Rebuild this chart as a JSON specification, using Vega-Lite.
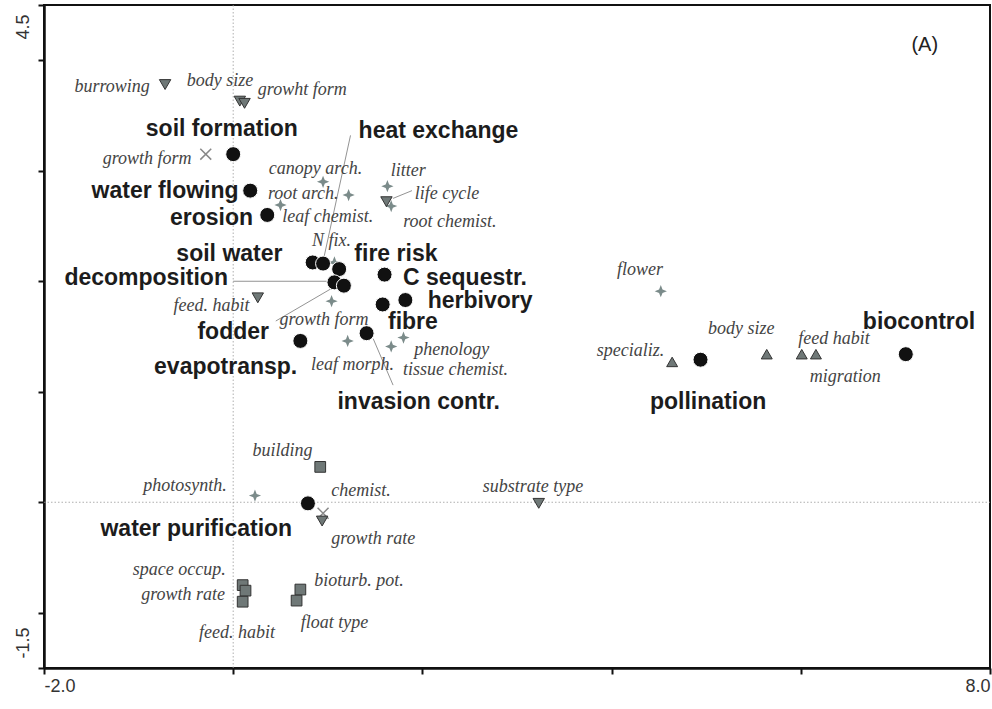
{
  "$schema": "https://vega.github.io/schema/vega-lite/v6.json",
  "width": 946,
  "height": 663,
  "autosize": {"type": "none"},
  "padding": {"left": 44, "top": 5, "right": 2, "bottom": 41},
  "background": "white",
  "config": {"view": {"stroke": "#111", "strokeWidth": 2}},
  "datasets": {
    "zero": [
      {"x": 0, "y": -1.5, "x2": 0, "y2": 4.5},
      {"x": -2, "y": 0, "x2": 8, "y2": 0}
    ],
    "leaders": [
      {"name": "heat exchange", "x": 1.24, "y": 3.32, "x2": 0.95, "y2": 2.18},
      {"name": "decomposition", "x": 0.0, "y": 2.0, "x2": 1.0, "y2": 2.0},
      {"name": "fodder", "x": 0.45, "y": 1.64, "x2": 1.03, "y2": 1.93},
      {"name": "invasion contr.", "x": 1.48, "y": 1.48, "x2": 1.69, "y2": 1.06},
      {"name": "life cycle", "x": 1.69, "y": 2.75, "x2": 1.89, "y2": 2.82}
    ],
    "points": [
      {"name": "soil formation", "group": "service", "x": 0.0, "y": 3.15},
      {"name": "water flowing", "group": "service", "x": 0.18, "y": 2.82},
      {"name": "erosion", "group": "service", "x": 0.36, "y": 2.6},
      {"name": "soil water", "group": "service", "x": 0.84, "y": 2.17},
      {"name": "heat exchange", "group": "service", "x": 0.95, "y": 2.16},
      {"name": "fire risk", "group": "service", "x": 1.12, "y": 2.11},
      {"name": "decomposition", "group": "service", "x": 1.07, "y": 1.99},
      {"name": "fodder", "group": "service", "x": 1.17, "y": 1.96},
      {"name": "C sequestr.", "group": "service", "x": 1.6, "y": 2.06},
      {"name": "fibre", "group": "service", "x": 1.58, "y": 1.79},
      {"name": "herbivory", "group": "service", "x": 1.82, "y": 1.83},
      {"name": "invasion contr.", "group": "service", "x": 1.41, "y": 1.53},
      {"name": "evapotransp.", "group": "service", "x": 0.71, "y": 1.46},
      {"name": "pollination", "group": "service", "x": 4.94, "y": 1.29},
      {"name": "biocontrol", "group": "service", "x": 7.11, "y": 1.34},
      {"name": "water purification", "group": "service", "x": 0.79, "y": -0.01},
      {"name": "canopy arch.", "group": "star", "x": 0.95, "y": 2.9},
      {"name": "root arch.", "group": "star", "x": 1.22, "y": 2.78},
      {"name": "leaf chemist.", "group": "star", "x": 0.5, "y": 2.69},
      {"name": "litter", "group": "star", "x": 1.63, "y": 2.86},
      {"name": "root chemist.", "group": "star", "x": 1.67, "y": 2.68},
      {"name": "N fix.", "group": "star", "x": 1.07, "y": 2.17},
      {"name": "growth form", "group": "star", "x": 1.04, "y": 1.82},
      {"name": "leaf morph.", "group": "star", "x": 1.21, "y": 1.46},
      {"name": "tissue chemist.", "group": "star", "x": 1.67, "y": 1.41},
      {"name": "phenology", "group": "star", "x": 1.8, "y": 1.49},
      {"name": "flower", "group": "star", "x": 4.52, "y": 1.91},
      {"name": "photosynth.", "group": "star", "x": 0.23, "y": 0.06},
      {"name": "growth form", "group": "cross", "x": -0.29, "y": 3.15},
      {"name": "chemist.", "group": "cross", "x": 0.95, "y": -0.1},
      {"name": "burrowing", "group": "down", "x": -0.72, "y": 3.78},
      {"name": "body size", "group": "down", "x": 0.07, "y": 3.63},
      {"name": "growht form", "group": "down", "x": 0.12, "y": 3.61},
      {"name": "life cycle", "group": "down", "x": 1.62, "y": 2.72},
      {"name": "feed. habit", "group": "down", "x": 0.26, "y": 1.85},
      {"name": "growth rate", "group": "down", "x": 0.94, "y": -0.17},
      {"name": "substrate type", "group": "down", "x": 3.23, "y": -0.01},
      {"name": "specializ.", "group": "up", "x": 4.64, "y": 1.27},
      {"name": "body size", "group": "up", "x": 5.64, "y": 1.34},
      {"name": "feed habit", "group": "up", "x": 6.01, "y": 1.34},
      {"name": "migration", "group": "up", "x": 6.16, "y": 1.34},
      {"name": "building", "group": "square", "x": 0.92, "y": 0.32},
      {"name": "space occup.", "group": "square", "x": 0.1, "y": -0.75},
      {"name": "growth rate", "group": "square", "x": 0.13, "y": -0.8},
      {"name": "feed. habit", "group": "square", "x": 0.1, "y": -0.9},
      {"name": "bioturb. pot.", "group": "square", "x": 0.71, "y": -0.79},
      {"name": "float type", "group": "square", "x": 0.67, "y": -0.89}
    ],
    "labels": [
      {"text": "soil formation", "kind": "service", "x": -0.12, "y": 3.38},
      {"text": "water flowing", "kind": "service", "x": -0.72, "y": 2.82},
      {"text": "erosion", "kind": "service", "x": -0.23, "y": 2.57},
      {"text": "soil water", "kind": "service", "x": -0.04, "y": 2.25},
      {"text": "decomposition", "kind": "service", "x": -0.92, "y": 2.03},
      {"text": "heat exchange", "kind": "service", "x": 2.17, "y": 3.36},
      {"text": "fire risk", "kind": "service", "x": 1.72, "y": 2.25},
      {"text": "C sequestr.", "kind": "service", "x": 2.45, "y": 2.03},
      {"text": "herbivory", "kind": "service", "x": 2.61, "y": 1.82},
      {"text": "fibre", "kind": "service", "x": 1.9, "y": 1.63},
      {"text": "fodder", "kind": "service", "x": 0.0, "y": 1.54},
      {"text": "evapotransp.", "kind": "service", "x": -0.08, "y": 1.22},
      {"text": "invasion contr.", "kind": "service", "x": 1.96, "y": 0.91},
      {"text": "pollination", "kind": "service", "x": 5.02, "y": 0.91},
      {"text": "biocontrol", "kind": "service", "x": 7.25, "y": 1.63},
      {"text": "water purification", "kind": "service", "x": -0.39, "y": -0.24},
      {"text": "burrowing", "kind": "trait", "x": -1.28, "y": 3.76},
      {"text": "body size", "kind": "trait", "x": -0.14, "y": 3.81},
      {"text": "growht form", "kind": "trait", "x": 0.73, "y": 3.73},
      {"text": "growth form", "kind": "trait", "x": -0.91, "y": 3.11},
      {"text": "canopy arch.", "kind": "trait", "x": 0.87, "y": 3.02},
      {"text": "root arch.", "kind": "trait", "x": 0.74, "y": 2.79},
      {"text": "leaf chemist.", "kind": "trait", "x": 1.0, "y": 2.58},
      {"text": "litter", "kind": "trait", "x": 1.85, "y": 3.0},
      {"text": "life cycle", "kind": "trait", "x": 2.26, "y": 2.79},
      {"text": "root chemist.", "kind": "trait", "x": 2.29, "y": 2.54},
      {"text": "N fix.", "kind": "trait", "x": 1.04, "y": 2.36},
      {"text": "feed. habit", "kind": "trait", "x": -0.23, "y": 1.78},
      {"text": "growth form", "kind": "trait", "x": 0.96, "y": 1.65},
      {"text": "leaf morph.", "kind": "trait", "x": 1.26, "y": 1.24},
      {"text": "tissue chemist.", "kind": "trait", "x": 2.35, "y": 1.2},
      {"text": "phenology", "kind": "trait", "x": 2.31, "y": 1.38},
      {"text": "flower", "kind": "trait", "x": 4.3, "y": 2.1},
      {"text": "photosynth.", "kind": "trait", "x": -0.51, "y": 0.15},
      {"text": "building", "kind": "trait", "x": 0.52, "y": 0.46},
      {"text": "chemist.", "kind": "trait", "x": 1.35, "y": 0.1},
      {"text": "growth rate", "kind": "trait", "x": 1.48, "y": -0.33},
      {"text": "substrate type", "kind": "trait", "x": 3.17, "y": 0.14},
      {"text": "space occup.", "kind": "trait", "x": -0.57, "y": -0.61},
      {"text": "growth rate", "kind": "trait", "x": -0.53, "y": -0.84},
      {"text": "feed. habit", "kind": "trait", "x": 0.04, "y": -1.18},
      {"text": "bioturb. pot.", "kind": "trait", "x": 1.33, "y": -0.71},
      {"text": "float type", "kind": "trait", "x": 1.07, "y": -1.09},
      {"text": "specializ.", "kind": "trait", "x": 4.2, "y": 1.37},
      {"text": "body size", "kind": "trait", "x": 5.37, "y": 1.57},
      {"text": "feed habit", "kind": "trait", "x": 6.35, "y": 1.48},
      {"text": "migration", "kind": "trait", "x": 6.47, "y": 1.13},
      {"text": "(A)", "kind": "panel", "x": 7.31, "y": 4.14}
    ]
  },
  "encoding": {
    "x": {
      "field": "x", "type": "quantitative",
      "scale": {"domain": [-2, 8], "nice": false, "zero": false},
      "axis": {
        "title": null, "grid": false,
        "values": [-2, 0, 2, 4, 6, 8],
        "labelExpr": "datum.value == -2 ? '-2.0' : (datum.value == 8 ? '8.0' : '')",
        "labelFlush": true,
        "labelFont": "Liberation Sans", "labelFontSize": 18, "labelColor": "#333",
        "labelPadding": 3,
        "domainColor": "#111", "domainWidth": 2.5,
        "tickColor": "#111", "tickWidth": 2, "tickSize": 6
      }
    },
    "y": {
      "field": "y", "type": "quantitative",
      "scale": {"domain": [-1.5, 4.5], "nice": false, "zero": false},
      "axis": {
        "title": null, "grid": false,
        "values": [-1.5, -1, 0, 1, 2, 3, 4, 4.5],
        "labelExpr": "datum.value == 4.5 ? '4.5' : (datum.value == -1.5 ? '-1.5' : '')",
        "labelAngle": 270,
        "labelAlign": {"condition": {"test": "datum.value > 1", "value": "right"}, "value": "left"},
        "labelBaseline": "bottom",
        "labelOffset": {"condition": {"test": "datum.value > 1", "value": 9}, "value": -10},
        "labelFont": "Liberation Sans", "labelFontSize": 18, "labelColor": "#333",
        "labelPadding": 6,
        "domainColor": "#111", "domainWidth": 2.5,
        "tickColor": "#111", "tickWidth": 2, "tickSize": 6
      }
    }
  },
  "layer": [
    {
      "data": {"name": "zero"},
      "mark": {"type": "rule", "color": "#9a9a9a", "strokeWidth": 0.8, "strokeDash": [1.5, 2]},
      "encoding": {"x2": {"field": "x2"}, "y2": {"field": "y2"}}
    },
    {
      "data": {"name": "leaders"},
      "mark": {"type": "rule", "color": "#777", "strokeWidth": 0.8},
      "encoding": {"x2": {"field": "x2"}, "y2": {"field": "y2"}}
    },
    {
      "data": {"name": "points"},
      "transform": [{"filter": "datum.group == 'star'"}],
      "mark": {"type": "point", "filled": true, "shape": "M0,-1L0.28,-0.28L1,0L0.28,0.28L0,1L-0.28,0.28L-1,0L-0.28,-0.28Z", "size": 150, "color": "#7b8b8a", "opacity": 1}
    },
    {
      "data": {"name": "points"},
      "transform": [{"filter": "datum.group == 'cross'"}],
      "mark": {"type": "point", "filled": false, "shape": "M-1,-1L1,1M-1,1L1,-1", "size": 120, "stroke": "#888", "strokeWidth": 1.5, "opacity": 1}
    },
    {
      "data": {"name": "points"},
      "transform": [{"filter": "datum.group == 'down'"}],
      "mark": {"type": "point", "filled": true, "shape": "triangle-down", "size": 130, "fill": "#6f7877", "stroke": "#333", "strokeWidth": 1, "opacity": 1}
    },
    {
      "data": {"name": "points"},
      "transform": [{"filter": "datum.group == 'up'"}],
      "mark": {"type": "point", "filled": true, "shape": "triangle-up", "size": 120, "fill": "#6f7877", "stroke": "#333", "strokeWidth": 1, "opacity": 1}
    },
    {
      "data": {"name": "points"},
      "transform": [{"filter": "datum.group == 'square'"}],
      "mark": {"type": "point", "filled": true, "shape": "square", "size": 115, "fill": "#6f7877", "stroke": "#333", "strokeWidth": 1, "opacity": 1}
    },
    {
      "data": {"name": "points"},
      "transform": [{"filter": "datum.group == 'service'"}],
      "mark": {"type": "point", "filled": true, "shape": "circle", "size": 225, "fill": "#111", "stroke": "white", "strokeWidth": 1, "opacity": 1}
    },
    {
      "data": {"name": "labels"},
      "transform": [{"filter": "datum.kind == 'trait'"}],
      "mark": {"type": "text", "font": "Liberation Serif", "fontStyle": "italic", "fontSize": 18, "color": "#444", "align": "center", "baseline": "middle"},
      "encoding": {"text": {"field": "text"}}
    },
    {
      "data": {"name": "labels"},
      "transform": [{"filter": "datum.kind == 'service'"}],
      "mark": {"type": "text", "font": "Liberation Sans", "fontWeight": "bold", "fontSize": 23, "color": "#1c1c1c", "align": "center", "baseline": "middle"},
      "encoding": {"text": {"field": "text"}}
    },
    {
      "data": {"name": "labels"},
      "transform": [{"filter": "datum.kind == 'panel'"}],
      "mark": {"type": "text", "font": "Liberation Sans", "fontSize": 20, "color": "#222", "align": "center", "baseline": "middle"},
      "encoding": {"text": {"field": "text"}}
    }
  ]
}
